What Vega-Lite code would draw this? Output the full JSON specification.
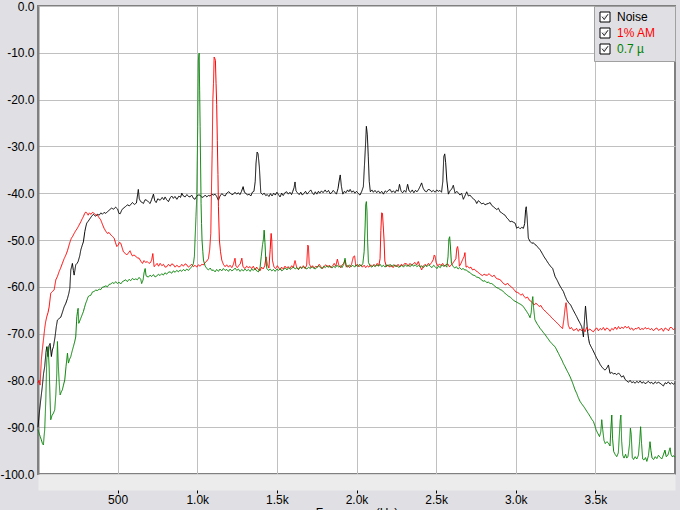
{
"$schema": "https://vega.github.io/schema/vega-lite/v6.json",
"width": 637, "height": 468,
"autosize": {"type": "none"},
"padding": {"left": 38, "top": 6, "right": 5, "bottom": 36},
"background": "#e0e0e4",
"config": {
  "font": "Liberation Sans",
  "view": {"fill": "white", "stroke": "#808080", "strokeWidth": 2},
  "line": {"strokeWidth": 1, "clip": true, "interpolate": "linear"},
  "legend": {"symbolStrokeColor": "#000000", "symbolFillColor": "#ffffff"}
},
"datasets": {
"noise": [
{"f":0,"v":-90},{"f":8,"v":-87},{"f":17,"v":-84.2},{"f":27,"v":-81.3},{"f":35,"v":-78.5},{"f":42,"v":-77.1},{"f":50,"v":-74},{"f":55,"v":-72.8},{"f":63,"v":-74.9},{"f":70,"v":-72.5},{"f":76,"v":-72.1},{"f":84,"v":-74.9},{"f":90,"v":-73.5},{"f":97,"v":-72.8},{"f":107,"v":-70.7},{"f":115,"v":-68.5},{"f":122,"v":-67.1},{"f":132,"v":-66.8},{"f":143,"v":-66.5},{"f":152,"v":-65.6},{"f":164,"v":-64.3},{"f":175,"v":-63.5},{"f":185,"v":-62.5},{"f":193,"v":-61.5},{"f":200,"v":-60.3},{"f":206,"v":-56.4},{"f":216,"v":-55.0},{"f":222,"v":-56.5},{"f":227,"v":-57.5},{"f":237,"v":-55.3},{"f":245,"v":-55.0},{"f":252,"v":-54.6},{"f":262,"v":-53.4},{"f":269,"v":-52.1},{"f":277,"v":-51.2},{"f":285,"v":-50.4},{"f":294,"v":-48.2},{"f":300,"v":-47.2},{"f":306,"v":-46.4},{"f":315,"v":-46.0},{"f":321,"v":-45.7},{"f":335,"v":-45.0},{"f":348,"v":-44.5},{"f":356,"v":-44.8},{"f":363,"v":-44.9},{"f":375,"v":-44.5},{"f":384,"v":-44.7},{"f":395,"v":-44.2},{"f":404,"v":-44.5},{"f":415,"v":-44.1},{"f":425,"v":-44.3},{"f":435,"v":-44.0},{"f":448,"v":-43.6},{"f":461,"v":-43.2},{"f":475,"v":-43.4},{"f":488,"v":-43.0},{"f":500,"v":-43.4},{"f":508,"v":-44.3},{"f":516,"v":-44.4},{"f":526,"v":-43.6},{"f":536,"v":-43.2},{"f":548,"v":-42.9},{"f":561,"v":-42.5},{"f":575,"v":-42.7},{"f":593,"v":-42.0},{"f":605,"v":-42.4},{"f":618,"v":-42.1},{"f":630,"v":-39.2},{"f":636,"v":-41.2},{"f":645,"v":-41.8},{"f":655,"v":-42.0},{"f":662,"v":-42.2},{"f":672,"v":-41.4},{"f":683,"v":-41.5},{"f":694,"v":-41.9},{"f":704,"v":-42.2},{"f":714,"v":-41.3},{"f":725,"v":-40.2},{"f":733,"v":-41.6},{"f":742,"v":-42.0},{"f":752,"v":-41.2},{"f":767,"v":-41.5},{"f":780,"v":-40.9},{"f":790,"v":-41.4},{"f":798,"v":-40.8},{"f":808,"v":-41.4},{"f":819,"v":-41.8},{"f":830,"v":-41.0},{"f":840,"v":-40.6},{"f":850,"v":-41.1},{"f":860,"v":-40.7},{"f":872,"v":-41.3},{"f":885,"v":-40.6},{"f":895,"v":-40.9},{"f":903,"v":-40.0},{"f":913,"v":-40.6},{"f":924,"v":-40.8},{"f":935,"v":-40.3},{"f":945,"v":-40.7},{"f":955,"v":-40.8},{"f":965,"v":-40.4},{"f":976,"v":-41.1},{"f":986,"v":-41.3},{"f":997,"v":-40.6},{"f":1007,"v":-40.4},{"f":1018,"v":-40.4},{"f":1029,"v":-40.9},{"f":1039,"v":-40.8},{"f":1050,"v":-40.4},{"f":1060,"v":-40.8},{"f":1070,"v":-40.5},{"f":1081,"v":-40.6},{"f":1091,"v":-40.2},{"f":1101,"v":-40.4},{"f":1112,"v":-40.2},{"f":1122,"v":-40.7},{"f":1133,"v":-41.5},{"f":1143,"v":-40.6},{"f":1154,"v":-40.1},{"f":1164,"v":-40.4},{"f":1175,"v":-40.6},{"f":1185,"v":-40.0},{"f":1196,"v":-39.7},{"f":1206,"v":-39.9},{"f":1217,"v":-40.3},{"f":1227,"v":-40.2},{"f":1237,"v":-39.8},{"f":1248,"v":-40.2},{"f":1258,"v":-39.9},{"f":1268,"v":-40.3},{"f":1278,"v":-39.6},{"f":1288,"v":-38.6},{"f":1296,"v":-39.8},{"f":1305,"v":-40.0},{"f":1315,"v":-40.4},{"f":1326,"v":-40.2},{"f":1336,"v":-40.6},{"f":1346,"v":-39.8},{"f":1356,"v":-39.6},{"f":1364,"v":-37.5},{"f":1369,"v":-33.6},{"f":1376,"v":-31.2},{"f":1382,"v":-31.6},{"f":1390,"v":-34.4},{"f":1399,"v":-39.9},{"f":1410,"v":-40.3},{"f":1420,"v":-40.0},{"f":1430,"v":-40.5},{"f":1440,"v":-40.3},{"f":1450,"v":-40.7},{"f":1460,"v":-40.1},{"f":1470,"v":-40.6},{"f":1480,"v":-40.0},{"f":1490,"v":-40.4},{"f":1500,"v":-39.8},{"f":1510,"v":-40.3},{"f":1520,"v":-40.8},{"f":1530,"v":-40.0},{"f":1540,"v":-40.5},{"f":1550,"v":-39.9},{"f":1562,"v":-39.7},{"f":1572,"v":-40.2},{"f":1582,"v":-39.8},{"f":1592,"v":-40.3},{"f":1600,"v":-39.6},{"f":1608,"v":-38.8},{"f":1614,"v":-37.6},{"f":1620,"v":-39.5},{"f":1629,"v":-39.9},{"f":1640,"v":-40.3},{"f":1650,"v":-39.8},{"f":1660,"v":-40.4},{"f":1670,"v":-40.0},{"f":1680,"v":-39.6},{"f":1690,"v":-40.2},{"f":1700,"v":-39.8},{"f":1713,"v":-39.3},{"f":1722,"v":-39.9},{"f":1732,"v":-40.3},{"f":1741,"v":-39.7},{"f":1751,"v":-40.2},{"f":1761,"v":-39.6},{"f":1770,"v":-40.0},{"f":1780,"v":-39.5},{"f":1790,"v":-39.9},{"f":1803,"v":-39.3},{"f":1813,"v":-39.8},{"f":1824,"v":-39.4},{"f":1834,"v":-40.1},{"f":1844,"v":-39.9},{"f":1854,"v":-39.4},{"f":1864,"v":-39.8},{"f":1874,"v":-40.2},{"f":1884,"v":-39.0},{"f":1892,"v":-37.2},{"f":1898,"v":-36.1},{"f":1905,"v":-38.5},{"f":1914,"v":-40.2},{"f":1924,"v":-39.6},{"f":1934,"v":-39.9},{"f":1944,"v":-39.3},{"f":1952,"v":-39.7},{"f":1960,"v":-39.2},{"f":1970,"v":-39.8},{"f":1980,"v":-39.5},{"f":1990,"v":-40.0},{"f":2000,"v":-39.6},{"f":2012,"v":-40.1},{"f":2022,"v":-40.4},{"f":2033,"v":-39.6},{"f":2043,"v":-38.6},{"f":2050,"v":-34},{"f":2056,"v":-30.1},{"f":2062,"v":-25.7},{"f":2068,"v":-27.5},{"f":2074,"v":-32.2},{"f":2080,"v":-37.5},{"f":2087,"v":-39.7},{"f":2097,"v":-39.3},{"f":2106,"v":-39.8},{"f":2116,"v":-39.4},{"f":2127,"v":-39.9},{"f":2137,"v":-39.5},{"f":2148,"v":-40.0},{"f":2158,"v":-39.6},{"f":2169,"v":-40.2},{"f":2180,"v":-39.5},{"f":2190,"v":-39.8},{"f":2200,"v":-39.4},{"f":2211,"v":-39.2},{"f":2221,"v":-39.8},{"f":2232,"v":-39.5},{"f":2242,"v":-39.9},{"f":2252,"v":-39.3},{"f":2262,"v":-39.6},{"f":2270,"v":-38.1},{"f":2280,"v":-39.6},{"f":2290,"v":-39.9},{"f":2300,"v":-39.4},{"f":2310,"v":-39.8},{"f":2321,"v":-38.1},{"f":2330,"v":-39.5},{"f":2340,"v":-39.8},{"f":2350,"v":-39.3},{"f":2360,"v":-39.9},{"f":2370,"v":-39.4},{"f":2380,"v":-39.7},{"f":2390,"v":-39.2},{"f":2400,"v":-38.5},{"f":2409,"v":-37.8},{"f":2418,"v":-38.9},{"f":2428,"v":-39.5},{"f":2440,"v":-39.7},{"f":2450,"v":-39.2},{"f":2462,"v":-39.3},{"f":2472,"v":-39.7},{"f":2482,"v":-39.4},{"f":2494,"v":-39.8},{"f":2504,"v":-39.3},{"f":2514,"v":-39.6},{"f":2524,"v":-39.4},{"f":2534,"v":-39.8},{"f":2542,"v":-37.5},{"f":2548,"v":-32.2},{"f":2554,"v":-31.6},{"f":2560,"v":-33.5},{"f":2567,"v":-37.2},{"f":2577,"v":-40.2},{"f":2587,"v":-39.5},{"f":2598,"v":-39.1},{"f":2608,"v":-38.3},{"f":2619,"v":-40.0},{"f":2630,"v":-39.6},{"f":2640,"v":-40.0},{"f":2650,"v":-40.4},{"f":2660,"v":-40.0},{"f":2671,"v":-41.3},{"f":2682,"v":-40.5},{"f":2692,"v":-39.7},{"f":2703,"v":-40.6},{"f":2713,"v":-40.4},{"f":2724,"v":-40.9},{"f":2734,"v":-41.2},{"f":2745,"v":-41.5},{"f":2755,"v":-42.2},{"f":2765,"v":-41.6},{"f":2776,"v":-41.9},{"f":2786,"v":-42.3},{"f":2797,"v":-42.1},{"f":2807,"v":-42.5},{"f":2818,"v":-42.3},{"f":2828,"v":-42.2},{"f":2839,"v":-42.0},{"f":2849,"v":-42.6},{"f":2860,"v":-42.9},{"f":2870,"v":-43.2},{"f":2881,"v":-43.5},{"f":2891,"v":-43.2},{"f":2902,"v":-44.0},{"f":2912,"v":-44.2},{"f":2923,"v":-44.5},{"f":2933,"v":-44.7},{"f":2944,"v":-45.3},{"f":2954,"v":-45.6},{"f":2964,"v":-46.1},{"f":2975,"v":-46.0},{"f":2985,"v":-46.2},{"f":2996,"v":-46.4},{"f":3006,"v":-47.5},{"f":3015,"v":-47.2},{"f":3027,"v":-47.6},{"f":3038,"v":-47.3},{"f":3048,"v":-47.5},{"f":3056,"v":-46.5},{"f":3062,"v":-43.5},{"f":3066,"v":-42.9},{"f":3072,"v":-45.5},{"f":3079,"v":-49.6},{"f":3090,"v":-50.3},{"f":3101,"v":-50.7},{"f":3111,"v":-50.6},{"f":3121,"v":-51.0},{"f":3128,"v":-51.1},{"f":3140,"v":-51.6},{"f":3153,"v":-52.1},{"f":3165,"v":-52.8},{"f":3178,"v":-53.6},{"f":3190,"v":-54.2},{"f":3205,"v":-55.0},{"f":3218,"v":-55.6},{"f":3232,"v":-56.1},{"f":3240,"v":-57.0},{"f":3247,"v":-57.8},{"f":3260,"v":-58.6},{"f":3274,"v":-59.6},{"f":3286,"v":-60.3},{"f":3299,"v":-61.0},{"f":3310,"v":-62.0},{"f":3320,"v":-62.8},{"f":3332,"v":-63.4},{"f":3345,"v":-63.9},{"f":3358,"v":-64.8},{"f":3372,"v":-65.7},{"f":3383,"v":-66.4},{"f":3393,"v":-67.1},{"f":3404,"v":-67.8},{"f":3414,"v":-68.5},{"f":3420,"v":-69.5},{"f":3425,"v":-70.7},{"f":3432,"v":-67.0},{"f":3438,"v":-64.1},{"f":3444,"v":-66.5},{"f":3450,"v":-69.2},{"f":3457,"v":-71.0},{"f":3463,"v":-72.1},{"f":3473,"v":-72.8},{"f":3484,"v":-73.5},{"f":3495,"v":-74.3},{"f":3509,"v":-75.3},{"f":3520,"v":-75.9},{"f":3530,"v":-76.6},{"f":3540,"v":-77.1},{"f":3550,"v":-77.5},{"f":3561,"v":-77.8},{"f":3571,"v":-77.4},{"f":3582,"v":-76.7},{"f":3592,"v":-78.5},{"f":3603,"v":-78.3},{"f":3613,"v":-78.6},{"f":3624,"v":-78.5},{"f":3634,"v":-78.8},{"f":3645,"v":-78.4},{"f":3655,"v":-78.8},{"f":3665,"v":-79.3},{"f":3676,"v":-79.0},{"f":3687,"v":-79.8},{"f":3697,"v":-80.1},{"f":3708,"v":-80.4},{"f":3718,"v":-80.0},{"f":3729,"v":-80.5},{"f":3739,"v":-80.3},{"f":3750,"v":-80.6},{"f":3760,"v":-80.2},{"f":3771,"v":-80.5},{"f":3781,"v":-80.1},{"f":3792,"v":-80.6},{"f":3802,"v":-80.3},{"f":3812,"v":-80.7},{"f":3822,"v":-80.5},{"f":3833,"v":-80.2},{"f":3843,"v":-80.6},{"f":3854,"v":-80.4},{"f":3864,"v":-80.8},{"f":3875,"v":-80.3},{"f":3885,"v":-80.6},{"f":3896,"v":-80.4},{"f":3906,"v":-80.6},{"f":3917,"v":-80.9},{"f":3927,"v":-81.2},{"f":3938,"v":-80.5},{"f":3948,"v":-80.7},{"f":3958,"v":-80.3},{"f":3969,"v":-80.8},{"f":3979,"v":-80.5},{"f":3990,"v":-80.8},{"f":3998,"v":-80.6}
],
"am": [
{"f":0,"v":-80.5},{"f":6,"v":-80},{"f":13,"v":-81.0},{"f":21,"v":-75.6},{"f":27,"v":-73.5},{"f":34,"v":-71.4},{"f":42,"v":-68.9},{"f":48,"v":-67.5},{"f":55,"v":-66.4},{"f":63,"v":-65.5},{"f":70,"v":-64.3},{"f":80,"v":-61.4},{"f":90,"v":-61.0},{"f":101,"v":-60.7},{"f":112,"v":-58.5},{"f":122,"v":-57.8},{"f":132,"v":-56.8},{"f":142,"v":-56.0},{"f":153,"v":-55.0},{"f":164,"v":-54.0},{"f":175,"v":-53.2},{"f":185,"v":-52.3},{"f":195,"v":-51.1},{"f":203,"v":-50.2},{"f":210,"v":-49.6},{"f":218,"v":-49.2},{"f":227,"v":-48.6},{"f":237,"v":-48.0},{"f":247,"v":-47.5},{"f":258,"v":-46.8},{"f":269,"v":-46.1},{"f":277,"v":-45.5},{"f":285,"v":-45.0},{"f":292,"v":-44.4},{"f":300,"v":-44.0},{"f":308,"v":-44.3},{"f":315,"v":-44.7},{"f":323,"v":-44.2},{"f":332,"v":-44.5},{"f":342,"v":-44.1},{"f":352,"v":-44.3},{"f":362,"v":-44.6},{"f":373,"v":-44.7},{"f":383,"v":-45.2},{"f":394,"v":-45.7},{"f":404,"v":-46.6},{"f":415,"v":-47.5},{"f":425,"v":-48.1},{"f":436,"v":-48.6},{"f":446,"v":-48.4},{"f":457,"v":-48.9},{"f":467,"v":-49.2},{"f":478,"v":-49.6},{"f":486,"v":-50.5},{"f":495,"v":-51.4},{"f":505,"v":-51.0},{"f":512,"v":-50.5},{"f":520,"v":-50.7},{"f":528,"v":-51.6},{"f":536,"v":-52.5},{"f":546,"v":-52.8},{"f":557,"v":-53.2},{"f":567,"v":-52.8},{"f":578,"v":-52.3},{"f":586,"v":-53.0},{"f":593,"v":-53.4},{"f":603,"v":-53.2},{"f":614,"v":-53.5},{"f":624,"v":-53.8},{"f":635,"v":-53.9},{"f":645,"v":-54.5},{"f":656,"v":-55.0},{"f":666,"v":-54.4},{"f":676,"v":-54.8},{"f":686,"v":-54.6},{"f":697,"v":-55.0},{"f":707,"v":-54.8},{"f":714,"v":-54.2},{"f":721,"v":-52.9},{"f":729,"v":-55.7},{"f":738,"v":-55.4},{"f":748,"v":-55.0},{"f":757,"v":-55.6},{"f":767,"v":-55.0},{"f":778,"v":-55.5},{"f":788,"v":-55.2},{"f":798,"v":-55.8},{"f":809,"v":-55.7},{"f":819,"v":-55.2},{"f":830,"v":-55.6},{"f":840,"v":-55.1},{"f":851,"v":-55.3},{"f":861,"v":-55.8},{"f":872,"v":-55.4},{"f":882,"v":-55.7},{"f":892,"v":-55.7},{"f":903,"v":-55.2},{"f":913,"v":-55.6},{"f":924,"v":-55.1},{"f":934,"v":-55.3},{"f":944,"v":-55.8},{"f":955,"v":-55.5},{"f":965,"v":-55.2},{"f":976,"v":-55.7},{"f":986,"v":-55.4},{"f":997,"v":-55.8},{"f":1007,"v":-55.3},{"f":1018,"v":-55.6},{"f":1028,"v":-55.2},{"f":1039,"v":-55.3},{"f":1050,"v":-54.8},{"f":1060,"v":-54.5},{"f":1070,"v":-54.0},{"f":1078,"v":-52.1},{"f":1085,"v":-48.6},{"f":1090,"v":-38},{"f":1094,"v":-30.8},{"f":1098,"v":-20},{"f":1102,"v":-16.5},{"f":1106,"v":-10.9},{"f":1110,"v":-11.2},{"f":1114,"v":-11.6},{"f":1118,"v":-16.5},{"f":1122,"v":-21},{"f":1126,"v":-28.7},{"f":1130,"v":-36},{"f":1133,"v":-42.9},{"f":1139,"v":-50.0},{"f":1146,"v":-52.5},{"f":1154,"v":-54.3},{"f":1164,"v":-55.2},{"f":1175,"v":-55.7},{"f":1185,"v":-55.3},{"f":1196,"v":-55.8},{"f":1206,"v":-55.4},{"f":1217,"v":-55.9},{"f":1227,"v":-55.2},{"f":1237,"v":-53.9},{"f":1243,"v":-55.6},{"f":1252,"v":-55.9},{"f":1262,"v":-55.4},{"f":1270,"v":-55.1},{"f":1280,"v":-53.9},{"f":1287,"v":-55.7},{"f":1300,"v":-56.1},{"f":1310,"v":-55.6},{"f":1320,"v":-55.9},{"f":1332,"v":-55.7},{"f":1342,"v":-56.1},{"f":1352,"v":-55.6},{"f":1363,"v":-56.4},{"f":1373,"v":-55.8},{"f":1384,"v":-56.3},{"f":1394,"v":-56.6},{"f":1404,"v":-55.8},{"f":1414,"v":-56.2},{"f":1424,"v":-55.5},{"f":1432,"v":-53.6},{"f":1440,"v":-55.2},{"f":1450,"v":-56.0},{"f":1458,"v":-52},{"f":1464,"v":-48.6},{"f":1468,"v":-50.0},{"f":1472,"v":-54.3},{"f":1482,"v":-55.8},{"f":1492,"v":-56.1},{"f":1503,"v":-55.5},{"f":1513,"v":-56.0},{"f":1520,"v":-56.4},{"f":1530,"v":-55.8},{"f":1540,"v":-56.2},{"f":1551,"v":-55.6},{"f":1561,"v":-56.0},{"f":1572,"v":-55.7},{"f":1582,"v":-56.1},{"f":1593,"v":-55.5},{"f":1603,"v":-55.9},{"f":1614,"v":-54.4},{"f":1624,"v":-55.8},{"f":1635,"v":-56.3},{"f":1645,"v":-55.7},{"f":1656,"v":-56.0},{"f":1666,"v":-55.5},{"f":1677,"v":-56.1},{"f":1687,"v":-55.4},{"f":1694,"v":-51.1},{"f":1698,"v":-51.3},{"f":1703,"v":-55.0},{"f":1714,"v":-55.9},{"f":1724,"v":-55.5},{"f":1734,"v":-56.0},{"f":1745,"v":-55.6},{"f":1755,"v":-55.8},{"f":1766,"v":-55.2},{"f":1776,"v":-55.7},{"f":1787,"v":-56.1},{"f":1797,"v":-55.6},{"f":1808,"v":-55.3},{"f":1818,"v":-55.8},{"f":1829,"v":-55.4},{"f":1839,"v":-55.9},{"f":1850,"v":-55.5},{"f":1860,"v":-55.0},{"f":1870,"v":-55.6},{"f":1880,"v":-54.1},{"f":1890,"v":-55.5},{"f":1900,"v":-55.9},{"f":1910,"v":-55.3},{"f":1920,"v":-55.0},{"f":1928,"v":-54.3},{"f":1936,"v":-55.8},{"f":1946,"v":-55.4},{"f":1957,"v":-55.9},{"f":1968,"v":-55.3},{"f":1980,"v":-53.6},{"f":1988,"v":-53.4},{"f":1996,"v":-55.6},{"f":2006,"v":-55.2},{"f":2016,"v":-55.7},{"f":2027,"v":-55.3},{"f":2037,"v":-55.8},{"f":2048,"v":-55.4},{"f":2058,"v":-55.9},{"f":2068,"v":-55.5},{"f":2078,"v":-55.8},{"f":2089,"v":-55.3},{"f":2099,"v":-55.7},{"f":2110,"v":-55.2},{"f":2120,"v":-55.6},{"f":2130,"v":-55.0},{"f":2140,"v":-55.5},{"f":2148,"v":-54.0},{"f":2153,"v":-48},{"f":2158,"v":-44.2},{"f":2163,"v":-44.3},{"f":2168,"v":-47},{"f":2173,"v":-50.0},{"f":2178,"v":-54.5},{"f":2188,"v":-55.7},{"f":2199,"v":-55.3},{"f":2209,"v":-55.8},{"f":2219,"v":-55.4},{"f":2230,"v":-55.9},{"f":2240,"v":-55.3},{"f":2250,"v":-55.7},{"f":2261,"v":-55.2},{"f":2271,"v":-55.7},{"f":2282,"v":-55.2},{"f":2292,"v":-55.5},{"f":2303,"v":-55.0},{"f":2315,"v":-55.1},{"f":2325,"v":-55.6},{"f":2336,"v":-55.0},{"f":2346,"v":-55.4},{"f":2356,"v":-55.1},{"f":2367,"v":-54.8},{"f":2378,"v":-55.3},{"f":2388,"v":-54.6},{"f":2398,"v":-55.5},{"f":2409,"v":-56.4},{"f":2419,"v":-55.6},{"f":2430,"v":-55.2},{"f":2440,"v":-55.5},{"f":2451,"v":-55.0},{"f":2461,"v":-55.3},{"f":2472,"v":-54.8},{"f":2482,"v":-54.2},{"f":2488,"v":-53.2},{"f":2493,"v":-53.4},{"f":2500,"v":-54.8},{"f":2510,"v":-55.5},{"f":2520,"v":-55.2},{"f":2531,"v":-55.4},{"f":2541,"v":-55.0},{"f":2552,"v":-55.6},{"f":2562,"v":-55.3},{"f":2573,"v":-55.1},{"f":2583,"v":-55.7},{"f":2594,"v":-55.4},{"f":2604,"v":-55.0},{"f":2614,"v":-54.5},{"f":2624,"v":-54.0},{"f":2630,"v":-51.8},{"f":2635,"v":-51.4},{"f":2640,"v":-52.5},{"f":2646,"v":-55.6},{"f":2656,"v":-55.0},{"f":2666,"v":-54.2},{"f":2676,"v":-53.5},{"f":2681,"v":-52.7},{"f":2688,"v":-55.8},{"f":2697,"v":-55.6},{"f":2708,"v":-56.0},{"f":2718,"v":-55.8},{"f":2729,"v":-56.4},{"f":2739,"v":-56.2},{"f":2750,"v":-56.6},{"f":2760,"v":-56.8},{"f":2770,"v":-57.1},{"f":2781,"v":-57.4},{"f":2791,"v":-57.6},{"f":2801,"v":-57.3},{"f":2812,"v":-57.5},{"f":2822,"v":-57.5},{"f":2833,"v":-57.2},{"f":2843,"v":-57.6},{"f":2854,"v":-57.8},{"f":2864,"v":-57.5},{"f":2875,"v":-58.1},{"f":2885,"v":-58.3},{"f":2896,"v":-58.4},{"f":2906,"v":-58.6},{"f":2917,"v":-59.1},{"f":2927,"v":-59.4},{"f":2938,"v":-59.6},{"f":2948,"v":-59.2},{"f":2959,"v":-59.7},{"f":2969,"v":-59.9},{"f":2980,"v":-60.3},{"f":2990,"v":-60.6},{"f":3000,"v":-61.1},{"f":3011,"v":-61.2},{"f":3021,"v":-61.4},{"f":3032,"v":-61.8},{"f":3042,"v":-61.5},{"f":3053,"v":-62.1},{"f":3063,"v":-62.4},{"f":3074,"v":-62.2},{"f":3084,"v":-62.8},{"f":3095,"v":-63.1},{"f":3105,"v":-63.4},{"f":3116,"v":-63.9},{"f":3126,"v":-63.5},{"f":3137,"v":-63.8},{"f":3147,"v":-64.2},{"f":3158,"v":-64.0},{"f":3168,"v":-64.6},{"f":3178,"v":-65.0},{"f":3189,"v":-65.3},{"f":3199,"v":-65.7},{"f":3210,"v":-66.0},{"f":3220,"v":-66.4},{"f":3231,"v":-66.8},{"f":3241,"v":-67.1},{"f":3252,"v":-67.5},{"f":3262,"v":-67.8},{"f":3273,"v":-68.2},{"f":3283,"v":-68.6},{"f":3294,"v":-68.9},{"f":3302,"v":-67.0},{"f":3310,"v":-64.5},{"f":3316,"v":-63.4},{"f":3322,"v":-65.5},{"f":3330,"v":-68.2},{"f":3340,"v":-69.0},{"f":3350,"v":-68.7},{"f":3361,"v":-69.3},{"f":3372,"v":-69.2},{"f":3382,"v":-68.9},{"f":3393,"v":-69.5},{"f":3403,"v":-69.0},{"f":3414,"v":-69.4},{"f":3424,"v":-69.0},{"f":3435,"v":-69.6},{"f":3445,"v":-68.7},{"f":3456,"v":-69.3},{"f":3466,"v":-69.0},{"f":3477,"v":-69.4},{"f":3488,"v":-69.6},{"f":3498,"v":-69.1},{"f":3509,"v":-68.8},{"f":3519,"v":-69.4},{"f":3530,"v":-68.9},{"f":3540,"v":-69.2},{"f":3550,"v":-68.7},{"f":3561,"v":-69.3},{"f":3571,"v":-68.8},{"f":3582,"v":-69.0},{"f":3592,"v":-69.5},{"f":3603,"v":-68.9},{"f":3613,"v":-69.2},{"f":3624,"v":-68.6},{"f":3634,"v":-69.1},{"f":3645,"v":-68.5},{"f":3655,"v":-69.0},{"f":3666,"v":-68.6},{"f":3676,"v":-68.9},{"f":3687,"v":-68.4},{"f":3697,"v":-68.8},{"f":3708,"v":-68.5},{"f":3718,"v":-69.1},{"f":3729,"v":-68.8},{"f":3739,"v":-69.3},{"f":3750,"v":-68.9},{"f":3760,"v":-69.0},{"f":3771,"v":-68.6},{"f":3781,"v":-69.2},{"f":3792,"v":-68.9},{"f":3802,"v":-69.1},{"f":3812,"v":-68.7},{"f":3823,"v":-69.0},{"f":3833,"v":-68.8},{"f":3844,"v":-69.2},{"f":3854,"v":-68.9},{"f":3865,"v":-69.4},{"f":3875,"v":-69.0},{"f":3886,"v":-68.8},{"f":3896,"v":-69.3},{"f":3906,"v":-69.1},{"f":3917,"v":-68.9},{"f":3927,"v":-69.5},{"f":3938,"v":-68.8},{"f":3948,"v":-69.0},{"f":3959,"v":-69.4},{"f":3969,"v":-68.7},{"f":3979,"v":-68.7},{"f":3990,"v":-69.2},{"f":3998,"v":-68.9}
],
"mu": [
{"f":0,"v":-90.5},{"f":7,"v":-91.3},{"f":14,"v":-92.0},{"f":21,"v":-92.7},{"f":28,"v":-93.5},{"f":34,"v":-93.8},{"f":38,"v":-92},{"f":42,"v":-90.6},{"f":46,"v":-87},{"f":49,"v":-84.2},{"f":55,"v":-75.6},{"f":63,"v":-72.8},{"f":70,"v":-77.1},{"f":76,"v":-84.2},{"f":80,"v":-88.4},{"f":88,"v":-87.5},{"f":97,"v":-87.0},{"f":105,"v":-86.3},{"f":112,"v":-83},{"f":118,"v":-78.5},{"f":122,"v":-71.7},{"f":128,"v":-77.1},{"f":134,"v":-81},{"f":139,"v":-83.1},{"f":146,"v":-82.5},{"f":153,"v":-82.0},{"f":160,"v":-81.0},{"f":168,"v":-79.9},{"f":176,"v":-77},{"f":185,"v":-74.2},{"f":191,"v":-76.3},{"f":198,"v":-75.5},{"f":206,"v":-74.9},{"f":214,"v":-73.8},{"f":222,"v":-72.8},{"f":230,"v":-71.8},{"f":237,"v":-70.7},{"f":242,"v":-67.5},{"f":244,"v":-66.4},{"f":248,"v":-65.3},{"f":252,"v":-64.6},{"f":256,"v":-67.8},{"f":262,"v":-67.3},{"f":269,"v":-66.7},{"f":277,"v":-66.0},{"f":285,"v":-65.3},{"f":292,"v":-64.4},{"f":300,"v":-63.5},{"f":308,"v":-62.8},{"f":315,"v":-62.1},{"f":323,"v":-61.9},{"f":332,"v":-61.8},{"f":342,"v":-61.1},{"f":352,"v":-61.0},{"f":363,"v":-60.7},{"f":373,"v":-60.8},{"f":384,"v":-60.5},{"f":394,"v":-60.6},{"f":404,"v":-60.1},{"f":415,"v":-60.0},{"f":426,"v":-59.8},{"f":436,"v":-60.0},{"f":446,"v":-59.5},{"f":457,"v":-59.4},{"f":467,"v":-59.1},{"f":478,"v":-59.3},{"f":488,"v":-58.9},{"f":498,"v":-59.3},{"f":509,"v":-59.0},{"f":519,"v":-59.4},{"f":530,"v":-58.9},{"f":541,"v":-58.7},{"f":551,"v":-58.5},{"f":561,"v":-58.9},{"f":572,"v":-58.4},{"f":582,"v":-58.7},{"f":593,"v":-58.2},{"f":603,"v":-58.5},{"f":614,"v":-58.3},{"f":624,"v":-58.5},{"f":635,"v":-58.0},{"f":645,"v":-58.4},{"f":651,"v":-59.3},{"f":660,"v":-58.5},{"f":666,"v":-57.0},{"f":673,"v":-56.1},{"f":678,"v":-57.5},{"f":683,"v":-57.8},{"f":694,"v":-57.9},{"f":704,"v":-57.5},{"f":714,"v":-57.8},{"f":725,"v":-57.4},{"f":735,"v":-57.9},{"f":746,"v":-57.7},{"f":756,"v":-57.3},{"f":766,"v":-57.6},{"f":777,"v":-57.2},{"f":787,"v":-57.5},{"f":797,"v":-57.0},{"f":808,"v":-57.3},{"f":818,"v":-56.9},{"f":829,"v":-56.8},{"f":840,"v":-57.1},{"f":850,"v":-56.6},{"f":861,"v":-56.9},{"f":871,"v":-56.5},{"f":882,"v":-56.8},{"f":892,"v":-56.4},{"f":903,"v":-56.7},{"f":913,"v":-56.3},{"f":924,"v":-56.6},{"f":934,"v":-56.2},{"f":945,"v":-56.5},{"f":955,"v":-56.1},{"f":963,"v":-55.8},{"f":970,"v":-55.5},{"f":976,"v":-55.0},{"f":982,"v":-53.5},{"f":986,"v":-50.0},{"f":992,"v":-45},{"f":997,"v":-40.8},{"f":1000,"v":-33},{"f":1003,"v":-25.8},{"f":1005,"v":-18},{"f":1007,"v":-11.6},{"f":1010,"v":-10.5},{"f":1012,"v":-10.1},{"f":1015,"v":-18},{"f":1018,"v":-25.8},{"f":1021,"v":-34},{"f":1024,"v":-42.2},{"f":1027,"v":-46.5},{"f":1030,"v":-50.0},{"f":1035,"v":-52.5},{"f":1039,"v":-54.3},{"f":1049,"v":-55.5},{"f":1060,"v":-56.1},{"f":1070,"v":-56.4},{"f":1081,"v":-56.0},{"f":1091,"v":-56.5},{"f":1101,"v":-56.4},{"f":1112,"v":-56.8},{"f":1122,"v":-56.3},{"f":1133,"v":-56.7},{"f":1143,"v":-56.2},{"f":1154,"v":-56.6},{"f":1164,"v":-56.1},{"f":1175,"v":-56.5},{"f":1185,"v":-56.3},{"f":1196,"v":-56.7},{"f":1206,"v":-56.2},{"f":1217,"v":-56.6},{"f":1227,"v":-56.4},{"f":1238,"v":-56.0},{"f":1248,"v":-56.5},{"f":1258,"v":-56.2},{"f":1269,"v":-56.7},{"f":1279,"v":-56.3},{"f":1290,"v":-56.6},{"f":1300,"v":-56.2},{"f":1311,"v":-56.6},{"f":1321,"v":-56.3},{"f":1332,"v":-56.7},{"f":1342,"v":-56.2},{"f":1352,"v":-56.5},{"f":1363,"v":-56.1},{"f":1373,"v":-56.6},{"f":1384,"v":-56.8},{"f":1394,"v":-56.0},{"f":1402,"v":-53.5},{"f":1410,"v":-51},{"f":1415,"v":-50.0},{"f":1420,"v":-47.9},{"f":1425,"v":-50.5},{"f":1430,"v":-54.0},{"f":1437,"v":-56.1},{"f":1447,"v":-56.5},{"f":1458,"v":-56.2},{"f":1468,"v":-56.6},{"f":1479,"v":-56.3},{"f":1489,"v":-56.7},{"f":1500,"v":-56.2},{"f":1510,"v":-56.5},{"f":1521,"v":-56.1},{"f":1531,"v":-56.6},{"f":1542,"v":-56.3},{"f":1552,"v":-56.0},{"f":1563,"v":-56.4},{"f":1573,"v":-55.9},{"f":1584,"v":-56.3},{"f":1594,"v":-56.0},{"f":1605,"v":-55.8},{"f":1615,"v":-56.2},{"f":1626,"v":-55.9},{"f":1636,"v":-56.3},{"f":1647,"v":-55.8},{"f":1657,"v":-56.1},{"f":1668,"v":-55.7},{"f":1678,"v":-56.0},{"f":1689,"v":-56.2},{"f":1699,"v":-55.8},{"f":1710,"v":-56.1},{"f":1720,"v":-55.7},{"f":1731,"v":-56.0},{"f":1741,"v":-56.2},{"f":1752,"v":-55.8},{"f":1762,"v":-55.5},{"f":1773,"v":-55.9},{"f":1783,"v":-56.1},{"f":1794,"v":-55.6},{"f":1804,"v":-55.9},{"f":1815,"v":-55.5},{"f":1825,"v":-55.8},{"f":1836,"v":-55.6},{"f":1846,"v":-56.0},{"f":1857,"v":-55.6},{"f":1867,"v":-55.9},{"f":1878,"v":-55.4},{"f":1888,"v":-55.8},{"f":1899,"v":-55.5},{"f":1909,"v":-55.9},{"f":1920,"v":-55.2},{"f":1928,"v":-53.9},{"f":1935,"v":-55.5},{"f":1946,"v":-55.8},{"f":1956,"v":-55.3},{"f":1967,"v":-55.7},{"f":1977,"v":-55.4},{"f":1988,"v":-55.8},{"f":1998,"v":-55.3},{"f":2009,"v":-55.7},{"f":2019,"v":-55.2},{"f":2030,"v":-55.6},{"f":2040,"v":-55.0},{"f":2048,"v":-52.5},{"f":2054,"v":-47.2},{"f":2058,"v":-42.5},{"f":2062,"v":-41.8},{"f":2066,"v":-44},{"f":2070,"v":-50.5},{"f":2075,"v":-54.8},{"f":2085,"v":-55.5},{"f":2096,"v":-55.8},{"f":2106,"v":-55.4},{"f":2117,"v":-55.7},{"f":2127,"v":-55.3},{"f":2138,"v":-55.6},{"f":2148,"v":-55.2},{"f":2159,"v":-55.7},{"f":2169,"v":-55.4},{"f":2180,"v":-55.8},{"f":2190,"v":-55.3},{"f":2201,"v":-55.6},{"f":2211,"v":-55.2},{"f":2222,"v":-55.7},{"f":2232,"v":-55.3},{"f":2243,"v":-55.6},{"f":2253,"v":-55.5},{"f":2264,"v":-55.8},{"f":2274,"v":-55.7},{"f":2285,"v":-55.4},{"f":2295,"v":-55.8},{"f":2306,"v":-55.3},{"f":2316,"v":-55.6},{"f":2327,"v":-55.4},{"f":2337,"v":-55.7},{"f":2348,"v":-55.2},{"f":2358,"v":-55.6},{"f":2369,"v":-55.3},{"f":2379,"v":-55.7},{"f":2390,"v":-55.4},{"f":2400,"v":-55.8},{"f":2411,"v":-55.5},{"f":2421,"v":-55.9},{"f":2432,"v":-55.4},{"f":2442,"v":-55.7},{"f":2453,"v":-55.3},{"f":2463,"v":-55.6},{"f":2474,"v":-55.9},{"f":2484,"v":-55.4},{"f":2494,"v":-55.7},{"f":2505,"v":-56.1},{"f":2515,"v":-55.6},{"f":2526,"v":-55.9},{"f":2536,"v":-55.3},{"f":2547,"v":-55.6},{"f":2557,"v":-55.4},{"f":2567,"v":-55.8},{"f":2575,"v":-53.5},{"f":2580,"v":-49.8},{"f":2585,"v":-49.3},{"f":2590,"v":-51.5},{"f":2596,"v":-55.0},{"f":2606,"v":-55.6},{"f":2617,"v":-56.0},{"f":2627,"v":-55.7},{"f":2638,"v":-56.2},{"f":2648,"v":-55.9},{"f":2659,"v":-56.3},{"f":2669,"v":-56.1},{"f":2680,"v":-56.4},{"f":2690,"v":-56.4},{"f":2701,"v":-56.8},{"f":2711,"v":-56.9},{"f":2722,"v":-57.3},{"f":2732,"v":-57.5},{"f":2743,"v":-57.6},{"f":2753,"v":-57.9},{"f":2764,"v":-58.0},{"f":2776,"v":-58.2},{"f":2786,"v":-58.6},{"f":2797,"v":-58.8},{"f":2807,"v":-58.7},{"f":2818,"v":-59.1},{"f":2828,"v":-59.0},{"f":2839,"v":-59.3},{"f":2849,"v":-59.3},{"f":2860,"v":-59.6},{"f":2870,"v":-59.9},{"f":2881,"v":-60.2},{"f":2891,"v":-60.3},{"f":2902,"v":-60.6},{"f":2912,"v":-60.7},{"f":2923,"v":-61.1},{"f":2933,"v":-61.4},{"f":2944,"v":-61.7},{"f":2954,"v":-62.0},{"f":2965,"v":-62.2},{"f":2975,"v":-62.5},{"f":2986,"v":-62.9},{"f":2996,"v":-63.1},{"f":3007,"v":-63.3},{"f":3017,"v":-63.5},{"f":3028,"v":-63.7},{"f":3038,"v":-63.9},{"f":3049,"v":-64.3},{"f":3059,"v":-64.8},{"f":3069,"v":-65.3},{"f":3080,"v":-65.9},{"f":3090,"v":-66.6},{"f":3097,"v":-65.5},{"f":3103,"v":-63},{"f":3107,"v":-62.1},{"f":3112,"v":-64.5},{"f":3120,"v":-67.0},{"f":3132,"v":-67.8},{"f":3142,"v":-68.3},{"f":3153,"v":-68.9},{"f":3163,"v":-69.3},{"f":3174,"v":-69.8},{"f":3184,"v":-70.2},{"f":3194,"v":-70.7},{"f":3205,"v":-71.2},{"f":3215,"v":-71.7},{"f":3226,"v":-72.1},{"f":3236,"v":-72.5},{"f":3247,"v":-72.8},{"f":3257,"v":-73.5},{"f":3268,"v":-74.2},{"f":3278,"v":-74.9},{"f":3289,"v":-75.6},{"f":3299,"v":-76.4},{"f":3310,"v":-77.1},{"f":3320,"v":-77.8},{"f":3331,"v":-78.5},{"f":3341,"v":-79.2},{"f":3352,"v":-80.1},{"f":3362,"v":-81.0},{"f":3372,"v":-82.0},{"f":3383,"v":-82.8},{"f":3393,"v":-83.7},{"f":3404,"v":-84.5},{"f":3414,"v":-85.0},{"f":3425,"v":-85.5},{"f":3435,"v":-86.0},{"f":3446,"v":-86.6},{"f":3456,"v":-87.1},{"f":3467,"v":-87.7},{"f":3477,"v":-88.3},{"f":3488,"v":-88.8},{"f":3498,"v":-89.8},{"f":3505,"v":-90.6},{"f":3515,"v":-91.3},{"f":3526,"v":-92.0},{"f":3534,"v":-91.0},{"f":3540,"v":-88.4},{"f":3546,"v":-90.5},{"f":3554,"v":-92.8},{"f":3562,"v":-93.5},{"f":3572,"v":-93.1},{"f":3582,"v":-93.4},{"f":3592,"v":-94.0},{"f":3598,"v":-90.0},{"f":3603,"v":-87.4},{"f":3608,"v":-92.5},{"f":3615,"v":-95.2},{"f":3624,"v":-95.8},{"f":3634,"v":-96.3},{"f":3644,"v":-95.5},{"f":3650,"v":-92.0},{"f":3656,"v":-88.5},{"f":3660,"v":-87.4},{"f":3665,"v":-93.0},{"f":3672,"v":-96.0},{"f":3680,"v":-96.6},{"f":3690,"v":-95.8},{"f":3697,"v":-96.6},{"f":3705,"v":-96.2},{"f":3715,"v":-93.5},{"f":3720,"v":-90.2},{"f":3725,"v":-91.5},{"f":3732,"v":-96.5},{"f":3740,"v":-96.9},{"f":3750,"v":-96.3},{"f":3760,"v":-96.8},{"f":3770,"v":-96.0},{"f":3778,"v":-93.0},{"f":3784,"v":-89.9},{"f":3790,"v":-93.5},{"f":3797,"v":-96.8},{"f":3805,"v":-97.0},{"f":3815,"v":-96.5},{"f":3823,"v":-97.3},{"f":3833,"v":-96.1},{"f":3843,"v":-93.1},{"f":3849,"v":-95.0},{"f":3856,"v":-96.6},{"f":3866,"v":-96.9},{"f":3876,"v":-96.3},{"f":3886,"v":-96.7},{"f":3896,"v":-96.0},{"f":3906,"v":-96.4},{"f":3917,"v":-96.8},{"f":3927,"v":-95.9},{"f":3937,"v":-94.9},{"f":3945,"v":-96.3},{"f":3955,"v":-96.0},{"f":3962,"v":-95.2},{"f":3969,"v":-94.4},{"f":3975,"v":-95.8},{"f":3983,"v":-96.3},{"f":3992,"v":-96.1},{"f":3998,"v":-96.4}
]
},
"layer": [
{
  "data": {"name": "noise"},
  "mark": {"type": "line", "color": "#000000"},
  "encoding": {
    "x": {"field": "f", "type": "quantitative",
      "scale": {"domain": [0, 4000], "nice": false, "zero": false},
      "axis": {"orient": "bottom", "values": [500,1000,1500,2000,2500,3000,3500],
        "labelExpr": "datum.value < 1000 ? '500' : format(datum.value/1000, '.1f') + 'k'",
        "offset": 8, "domain": true, "domainColor": "#ececec", "domainWidth": 16, "domainCap": "butt",
        "ticks": true, "tickSize": 11, "tickColor": "#000000", "tickWidth": 1,
        "labelPadding": 1, "labelFontSize": 12, "labelColor": "#000000", "labelFont": "Liberation Sans",
        "grid": true, "gridColor": "#c0c0c0", "gridWidth": 1,
        "title": "Frequency (Hz)", "titleFontSize": 12, "titleFontWeight": "normal", "titleFont": "Liberation Sans", "titleColor": "#000000", "titlePadding": 2}},
    "y": {"field": "v", "type": "quantitative",
      "scale": {"domain": [-100, 0], "nice": false},
      "axis": {"values": [0,-10,-20,-30,-40,-50,-60,-70,-80,-90,-100],
        "labelExpr": "datum.value == 0 ? '0.0' : '-' + format(-datum.value, '.1f')",
        "domain": true, "domainColor": "#808080", "domainWidth": 2, "ticks": false,
        "labelPadding": 4, "labelFontSize": 12, "labelColor": "#000000", "labelFont": "Liberation Sans",
        "grid": true, "gridColor": "#c0c0c0", "gridWidth": 1, "title": null}},
    "strokeDash": {"datum": "Noise", "type": "nominal",
      "scale": {"domain": ["Noise", "1% AM", "0.7 µ"], "range": [[1, 0], [1, 0], [1, 0]]},
      "legend": {"title": null, "orient": "top-right", "offset": 0, "padding": 5,
        "fillColor": "#e0e0e4", "strokeColor": "#a0a0a0",
        "labelFont": "Liberation Sans", "labelFontSize": 12, "labelOffset": 6, "rowPadding": 2,
        "labelColor": {"expr": "datum.value == '1% AM' ? '#ff0000' : (datum.value == 'Noise' ? '#000000' : '#008000')"},
        "labelExpr": "datum.label + '\u00a0\u00a0\u00a0\u00a0\u200b'",
        "symbolType": "M-1,-1H1V1H-1Z M-0.6,-0.05L-0.15,0.5L0.6,-0.55",
        "symbolSize": 100, "symbolStrokeColor": "#000000", "symbolFillColor": "#ffffff", "symbolStrokeWidth": 1.5, "symbolOpacity": 1, "symbolDash": [1, 0]}}
  }
},
{
  "data": {"name": "am"},
  "mark": {"type": "line", "color": "#ff0000"},
  "encoding": {
    "x": {"field": "f", "type": "quantitative"},
    "y": {"field": "v", "type": "quantitative"},
    "strokeDash": {"datum": "1% AM", "type": "nominal"}
  }
},
{
  "data": {"name": "mu"},
  "mark": {"type": "line", "color": "#008000"},
  "encoding": {
    "x": {"field": "f", "type": "quantitative"},
    "y": {"field": "v", "type": "quantitative"},
    "strokeDash": {"datum": "0.7 µ", "type": "nominal"}
  }
}
]
}
